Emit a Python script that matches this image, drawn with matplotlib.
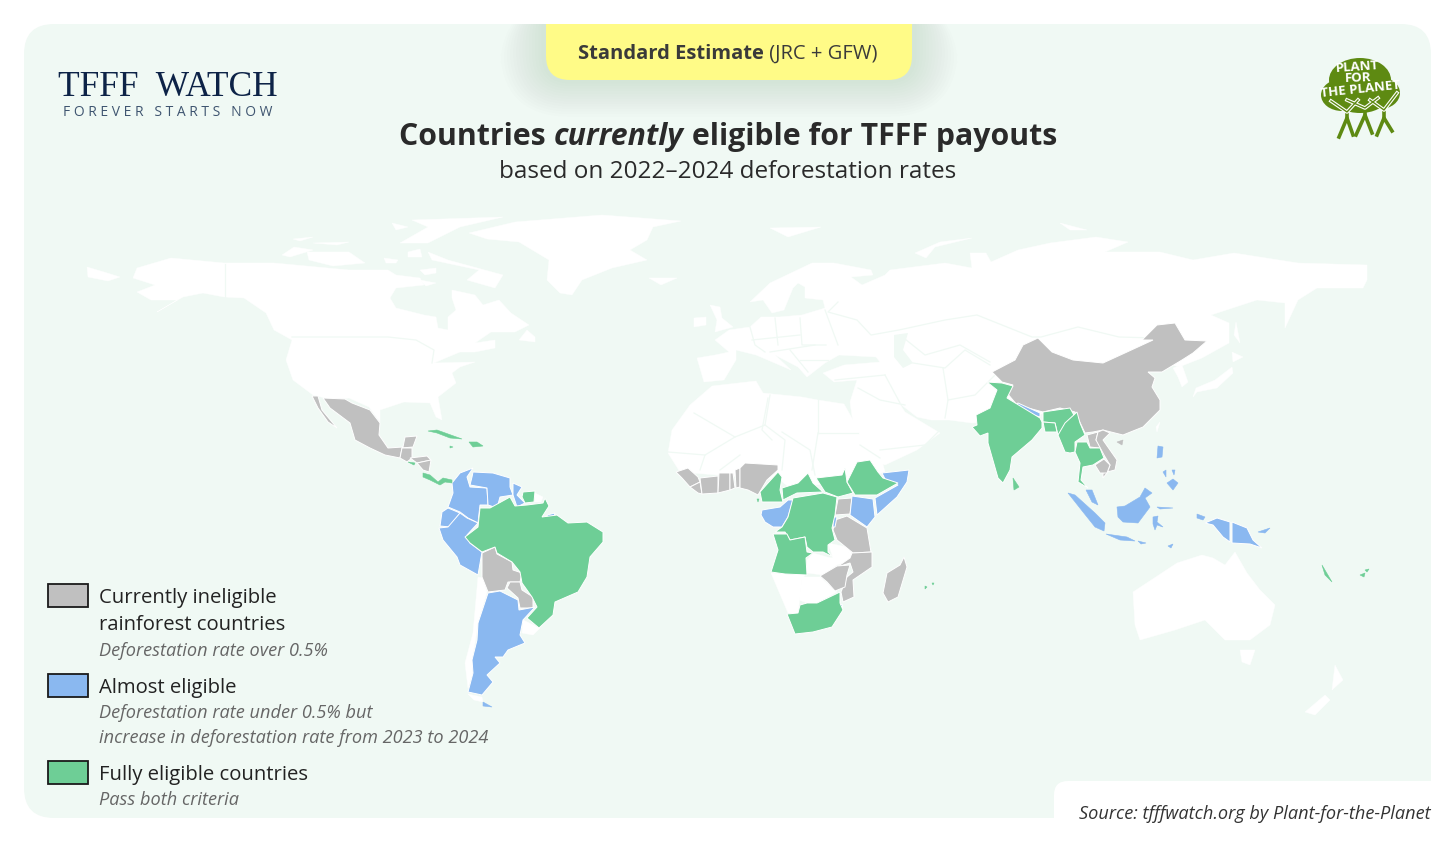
import matplotlib
matplotlib.use("Agg")
import matplotlib.pyplot as plt
from matplotlib.patches import FancyBboxPatch, Ellipse, Rectangle

# outlines are traced in map units (1 unit = 1 px of the 1456x842 picture)
PANEL = "#F0F9F4"
GREY = "#C0C0C0"
BLUE = "#8AB8F0"
GREEN = "#6ECE96"

# ---- land without a category
north_america = [(133,278),(137,268),(171,258),(224,263),(274,263),(317,267),(349,270),(388,270),(396,275),(420,278),
    (424,285),(396,288),(390,298),(396,308),(424,315),(436,317),(438,328),(448,330),(448,317),(456,310),(452,298),
    (452,290),(475,295),(483,305),(499,300),(511,313),(529,325),(515,332),(491,332),(475,343),(495,340),(495,348),
    (475,352),(460,352),(448,357),(434,363),(475,362),(460,367),(452,373),(456,383),(438,397),(442,420),(436,417),
    (430,403),(404,402),(380,410),(380,422),(369,407),(349,398),(333,400),(313,395),(293,380),(286,360),(292,340),
    (274,330),(266,313),(244,298),(224,297),(203,293),(183,297),(157,312),(177,300),(151,300),(137,292),(155,285)]
greenland = [(469,233),(515,222),(602,215),(681,221),(653,227),(647,240),(630,250),(647,260),(612,268),(582,280),
    (572,295),(560,293),(547,280),(549,260),(519,242),(487,239)]
iceland = [(649,278),(677,278),(661,285)]
arctic_1 = [(282,255),(294,247),(313,250),(290,257)]
arctic_2 = [(307,252),(349,252),(365,263),(333,266),(309,260)]
arctic_3 = [(408,252),(420,249),(422,257),(408,257)]
baffin = [(428,252),(448,260),(503,275),(495,288),(467,280),(479,270),(432,260)]
arctic_4 = [(384,258),(398,260),(396,263),(386,263)]
arctic_5 = [(420,280),(436,283),(426,286)]
arctic_6 = [(420,270),(436,268),(436,273),(425,275)]
arctic_7 = [(412,220),(503,217),(460,227),(448,233),(428,243),(400,243),(428,227)]
arctic_8 = [(392,223),(408,227),(396,230)]
arctic_9 = [(293,239),(313,237),(300,241)]
arctic_10 = [(313,243),(349,242),(337,245)]
chukotka_end = [(87,267),(104,272),(120,277),(108,281),(88,277)]
newfoundland = [(519,340),(527,330),(535,337),(535,342)]
eurasia = [(697,358),(715,355),(729,352),(715,340),(729,330),(750,327),(761,317),(779,317),(802,315),(825,308),(823,300),
    (805,298),(805,287),(798,283),(793,288),(784,310),(772,313),(763,300),(750,302),(770,283),(812,263),(834,263),
    (871,270),(873,275),(851,277),(862,285),(885,275),(890,270),(945,263),(972,268),(970,253),(986,253),(991,262),
    (1018,250),(1050,243),(1096,237),(1128,242),(1105,252),(1160,252),(1193,260),(1234,253),(1298,263),(1367,265),
    (1367,280),(1363,288),(1317,288),(1298,300),(1285,328),(1285,303),(1257,300),(1211,315),(1229,323),(1229,343),
    (1202,358),(1179,367),(1165,363),(1027,420),(972,423),(949,420),(931,420),(917,417),(899,403),(905,412),(940,433),
    (917,450),(885,465),(871,460),(853,423),(850,402),(857,380),(834,382),(823,373),(844,365),(880,362),(876,357),
    (839,355),(825,363),(807,377),(798,367),(775,355),(791,370),(784,367),(756,355),(736,350),(736,360),(724,380),(704,382)]
uk = [(710,305),(720,307),(722,318),(733,327),(715,332),(717,320)]
ireland = [(694,318),(706,317),(706,325),(694,327)]
svalbard = [(770,228),(821,227),(788,237)]
novaya_zemlya = [(915,253),(940,242),(972,238),(935,247),(926,258)]
franz_josef = [(1060,223),(1087,230),(1070,230)]
sakhalin = [(1236,322),(1240,343),(1234,335)]
honshu = [(1232,367),(1233,373),(1217,388),(1197,392),(1193,397),(1196,388),(1215,380)]
hokkaido = [(1232,352),(1243,357),(1233,362)]
korea = [(1173,368),(1182,365),(1188,382),(1182,387),(1178,377)]
taiwan = [(1160,422),(1157,432),(1156,427)]
africa_north = [(668,453),(672,430),(690,405),(712,386),(756,381),(763,393),(802,397),(818,400),(844,404),(857,427),
    (880,453),(885,472),(850,482),(815,485),(790,488),(780,480),(680,472)]
namibia = [(771,573),(805,575),(802,580),(799,605),(798,613),(788,613)]
botswana = [(802,577),(820,577),(837,592),(817,603),(807,603),(799,600)]
zambia = [(807,560),(813,553),(827,557),(833,558),(828,543),(847,547),(852,560),(837,565),(823,575),(807,573)]
malawi = [(847,547),(852,553),(853,572),(850,563)]
lesotho = [(824,617),(830,613),(834,617),(828,622)]
french_guiana = [(535,493),(543,497),(541,502),(534,502)]
uruguay = [(523,620),(540,628),(533,635),(522,633)]
chile = [(478,577),(483,578),(487,592),(478,623),(475,643),(472,660),(473,673),(468,688),(465,663),(473,633)]
fuego_white = [(468,694),(482,697),(483,702),(474,700)]
australia = [(1133,592),(1177,563),(1202,555),(1213,558),(1225,565),(1235,552),(1247,573),(1260,590),(1275,605),(1270,625),
    (1250,640),(1225,640),(1205,620),(1175,630),(1140,640),(1135,625)]
tasmania = [(1240,650),(1255,650),(1250,665),(1242,662)]
nz_north = [(1335,665),(1343,680),(1332,690)]
nz_south = [(1325,695),(1330,700),(1315,715),(1305,712)]

white_land = [north_america, greenland, iceland, arctic_1, arctic_2, arctic_3, baffin, arctic_4, arctic_5, arctic_6,
    arctic_7, arctic_8, arctic_9, arctic_10, chukotka_end, newfoundland, eurasia, uk, ireland, svalbard, novaya_zemlya,
    franz_josef, sakhalin, honshu, hokkaido, korea, taiwan, africa_north, namibia, botswana, zambia, malawi, lesotho,
    french_guiana, uruguay, chile, fuego_white, australia, tasmania, nz_north, nz_south]

caspian = [(894,335),(908,333),(903,350),(913,363),(903,368),(894,357)]

# pale country borders on the white land
borders = [
    [(292,337),(388,337),(416,340),(434,350),(432,363)], [(225,264),(225,297)],
    [(750,327),(755,345),(765,352)], [(775,318),(778,345)], [(800,318),(802,345),(826,345)], [(825,310),(838,345)],
    [(752,340),(800,335)], [(770,352),(815,345)], [(790,350),(808,372)], [(800,360),(828,360)],
    [(835,380),(885,375)], [(885,375),(900,403)], [(943,368),(948,400),(945,418)], [(948,400),(975,395),(1000,370)],
    [(913,363),(945,368),(965,350),(990,365)], [(900,335),(925,355),(960,345),(990,362)],
    [(838,302),(828,312),(857,320),(871,335),(899,330),(945,320),(977,315),(1032,337),(1041,337),(1078,327),(1119,337),(1155,338)],
    [(880,450),(925,445),(940,430)], [(858,388),(880,400),(905,405)],
    [(694,413),(735,437),(765,425),(770,395)], [(768,398),(762,430),(772,440)], [(818,400),(818,433)], [(818,433),(858,433)],
    [(782,432),(810,450),(815,475)], [(735,437),(705,455),(700,470)], [(668,452),(705,455)], [(765,425),(785,440),(782,470)],
    [(818,433),(812,470)], [(860,445),(880,458)], [(720,470),(740,455)],
]

# ---- rainforest countries, currently ineligible
mexico = [(323,398),(345,399),(352,403),(370,410),(380,423),(379,435),(388,448),(403,447),(405,437),(417,436),(413,447),
    (402,448),(400,458),(385,455),(370,448),(355,440),(350,423),(330,408)]
baja = [(312,396),(318,396),(322,410),(337,428),(328,422),(318,408)]
guatemala = [(402,448),(412,448),(412,458),(407,462),(400,458)]
honduras = [(410,458),(427,456),(431,460),(417,463)]
nicaragua = [(417,463),(431,460),(429,472),(423,470)]
bolivia = [(482,553),(495,547),(497,554),(512,562),(513,570),(522,573),(520,582),(508,582),(505,590),(488,592),(482,577)]
paraguay = [(507,588),(510,582),(520,582),(522,590),(533,597),(533,608),(520,608),(518,598)]
guinea = [(676,472),(688,468),(698,477),(700,482),(690,487),(682,478)]
liberia = [(690,487),(700,482),(702,494),(698,493)]
ivory_coast = [(700,478),(718,476),(718,493),(702,494)]
ghana = [(719,473),(730,473),(730,490),(718,493)]
togo = [(730,473),(733,473),(735,488),(730,490)]
benin = [(735,470),(740,468),(740,487),(736,488)]
nigeria = [(740,468),(745,463),(778,465),(778,470),(767,480),(758,495),(748,490),(740,488)]
uganda = [(838,499),(852,498),(850,514),(835,515)]
tanzania = [(835,520),(847,516),(867,528),(871,552),(853,553),(837,540),(833,530)]
mozambique = [(852,553),(872,552),(872,567),(853,580),(854,597),(843,602),(841,592),(847,577),(853,572),(850,563),(837,567),(850,558)]
zimbabwe = [(820,576),(837,566),(850,565),(847,575),(845,587),(835,591),(827,582)]
madagascar = [(904,557),(907,567),(898,597),(888,602),(883,593),(887,573),(900,565)]
china = [(992,372),(1015,360),(1023,345),(1038,338),(1052,352),(1073,360),(1103,363),(1127,352),(1153,340),(1142,340),
    (1157,325),(1175,323),(1185,340),(1207,341),(1193,353),(1182,360),(1162,372),(1148,372),(1155,378),(1152,387),
    (1160,400),(1160,410),(1143,427),(1123,435),(1103,430),(1093,432),(1085,433),(1075,412),(1060,408),(1043,412),
    (1017,405),(1007,393),(1013,385),(1002,382)]
laos = [(1087,435),(1098,432),(1096,440),(1106,450),(1104,458),(1099,448),(1090,447)]
vietnam = [(1098,432),(1103,430),(1110,433),(1103,440),(1117,460),(1115,470),(1103,473),(1103,478),(1107,473),(1110,465),(1104,455),(1096,440)]
cambodia = [(1095,465),(1104,459),(1110,465),(1107,473),(1100,473)]
hainan = [(1117,442),(1123,440),(1122,445)]

grey_countries = [mexico, baja, guatemala, honduras, nicaragua, bolivia, paraguay, guinea, liberia, ivory_coast, ghana, togo,
    benin, nigeria, uganda, tanzania, mozambique, zimbabwe, madagascar, china, laos, vietnam, cambodia]

# ---- almost eligible
colombia = [(452,483),(460,473),(473,468),(467,477),(470,487),(487,488),(488,505),(480,505),(478,523),(468,518),(460,512),(448,507),(453,493)]
venezuela = [(473,472),(493,473),(510,478),(510,487),(513,495),(500,497),(497,508),(488,505),(487,488),(470,485),(472,477)]
guyana = [(513,483),(522,487),(517,495),(525,503),(517,507),(513,495)]
ecuador = [(442,512),(448,508),(460,513),(450,527),(440,526)]
peru = [(439,528),(448,527),(460,513),(467,518),(478,523),(467,535),(470,543),(482,552),(478,575),(460,565),(457,557),(443,540)]
argentina = [(488,593),(500,591),(518,600),(519,610),(535,607),(523,620),(520,635),(525,643),(508,650),(503,657),(495,657),(500,663),
    (487,675),(493,682),(482,695),(468,692),(473,673),(472,660),(477,640),(478,623)]
amapa_spot = [(547,515),(555,513),(554,517),(548,518)]
gabon_congo = [(762,510),(780,507),(788,500),(793,500),(788,517),(782,527),(773,527),(765,522),(761,515)]
burundi = [(833,517),(837,517),(835,527),(833,527)]
kenya = [(852,496),(873,499),(875,517),(867,527),(850,515)]
somalia = [(882,473),(909,470),(907,482),(897,497),(877,515),(875,498),(898,485),(885,479)]
eswatini = [(838,604),(842,604),(842,608),(838,608)]
nepal = [(1013,407),(1018,403),(1040,413),(1040,417),(1023,412)]
bhutan = [(1045,413),(1055,413),(1055,416),(1045,416)]
west_papua = [(1205,523),(1217,518),(1230,522),(1230,542),(1223,537),(1213,525)]
papua = [(1232,522),(1247,528),(1253,540),(1262,548),(1250,544),(1232,543)]

blue_countries = [colombia, venezuela, guyana, ecuador, peru, argentina, amapa_spot, gabon_congo, burundi, kenya, somalia,
    eswatini, nepal, bhutan, west_papua, papua]

# blue islands and peninsulas, no white edge in the picture
fuego = [(483,702),(492,707),(483,706)]
malaysia = [(1086,490),(1092,490),(1098,505),(1092,502)]
sumatra = [(1068,493),(1075,495),(1095,513),(1105,523),(1104,531),(1095,527),(1083,512)]
java = [(1106,534),(1127,537),(1135,541),(1120,540)]
lesser_sunda = [(1138,541),(1146,543),(1141,544)]
timor = [(1168,546),(1173,544),(1171,548)]
borneo = [(1117,507),(1125,506),(1140,497),(1145,488),(1152,493),(1145,498),(1150,507),(1138,523),(1123,522),(1118,517)]
sulawesi = [(1153,517),(1158,516),(1157,522),(1163,527),(1157,525),(1155,530),(1153,524)]
seram = [(1157,507),(1173,508),(1160,509)]
luzon = [(1158,446),(1163,447),(1162,457),(1157,458)]
visayas = [(1163,472),(1166,470),(1166,477)]
palawan = [(1172,470),(1175,470),(1174,475)]
mindanao = [(1173,479),(1178,483),(1173,490),(1167,483)]
halmahera = [(1197,514),(1205,517),(1203,520),(1197,518)]
new_britain = [(1258,532),(1270,528),(1265,533)]

blue_islands = [fuego, malaysia, sumatra, java, lesser_sunda, timor, borneo, sulawesi, seram, luzon, visayas, palawan,
    mindanao, halmahera, new_britain]
grey_islands = [hainan]

# ---- fully eligible
brazil = [(480,508),(490,508),(510,497),(515,506),(527,505),(543,503),(545,498),(549,506),(542,517),(557,515),(568,523),(587,522),
    (603,532),(603,542),(590,557),(587,577),(578,592),(555,602),(553,615),(539,628),(527,618),(537,607),(532,597),(522,583),
    (520,572),(512,562),(497,553),(495,547),(482,552),(470,543),(465,537),(478,527)]
suriname = [(523,492),(535,491),(534,502),(525,503),(522,497)]
cameroon = [(778,472),(782,477),(780,490),(783,502),(762,502),(760,492),(768,483)]
car = [(782,488),(798,483),(808,473),(813,483),(823,492),(797,493),(783,500)]
south_sudan = [(816,478),(842,475),(845,468),(847,482),(853,493),(838,497),(825,492)]
ethiopia = [(857,462),(870,460),(878,472),(883,478),(898,483),(877,495),(855,495),(847,482)]
drc = [(793,498),(823,493),(837,497),(835,515),(832,528),(835,540),(828,545),(828,552),(833,557),(823,552),(813,552),(807,547),
    (805,537),(790,540),(785,532),(775,532),(782,527),(788,517)]
angola = [(773,534),(787,534),(790,540),(805,537),(807,552),(813,553),(806,558),(807,575),(785,574),(771,572),(778,550)]
south_africa = [(800,605),(807,603),(817,603),(840,592),(840,603),(843,610),(832,627),(813,632),(795,634),(787,614),(798,613)]
india = [(987,382),(1002,383),(1013,386),(1007,398),(1040,418),(1042,422),(1042,428),(1032,440),(1012,457),(1010,470),(1003,483),
    (998,478),(988,443),(988,433),(980,436),(972,427),(977,425),(976,415),(990,408),(997,390)]
northeast_india = [(1043,412),(1070,408),(1075,417),(1058,435),(1055,423),(1043,422)]
bangladesh = [(1043,422),(1055,423),(1057,432),(1045,432)]
myanmar = [(1077,412),(1080,423),(1085,435),(1075,442),(1075,452),(1070,453),(1065,452),(1058,435),(1065,423)]
thailand = [(1077,442),(1087,442),(1090,448),(1100,448),(1104,458),(1093,465),(1083,467),(1081,480),(1088,488),(1078,482),(1080,463),(1075,452)]

green_countries = [brazil, suriname, cameroon, car, south_sudan, ethiopia,
    drc, angola, south_africa, india, northeast_india, bangladesh, myanmar, thailand]

el_salvador = [(408,462),(415,463),(414,465)]
costa_panama = [(423,473),(430,475),(438,482),(443,478),(452,480),(452,483),(445,482),(440,485),(430,480),(423,477)]
cuba = [(428,431),(437,430),(462,439),(450,438),(437,433)]
hispaniola = [(469,442),(477,442),(483,446),(473,447)]
jamaica = [(450,446),(453,447),(450,448)]
sri_lanka = [(1013,478),(1019,487),(1014,490)]
solomon = [(1322,565),(1332,582),(1325,575)]
fiji = [(1360,575),(1365,573),(1364,577)]
fiji_2 = [(1365,570),(1369,569),(1367,572)]
mauritius = [(925,586),(927,587),(925,589)]
reunion = [(932,583),(934,583),(933,585)]
bioko = [(757,499),(759,499),(758,502)]
green_islands = [el_salvador, costa_panama, cuba, hispaniola, jamaica, sri_lanka, solomon, fiji, fiji_2, mauritius, reunion, bioko]

# ---- legend
legend_colors = [GREY, BLUE, GREEN]
legend_tops = [584, 674, 761]
legend_main = [("Currently ineligible", 598), ("rainforest countries", 625), ("Almost eligible", 688), ("Fully eligible countries", 775)]
legend_notes = [("Deforestation rate over 0.5%", 651), ("Deforestation rate under 0.5% but", 713),
    ("increase in deforestation rate from 2023 to 2024", 738), ("Pass both criteria", 800)]

# ---- logo of Plant-for-the-Planet
tree_blobs = [(1360,80,62,44), (1342,95,42,32), (1380,93,40,32), (1360,100,50,26)]
people_legs = [[(1339,137),(1347,118),(1353,135)], [(1356,135),(1365,115),(1372,133)], [(1377,135),(1384,118),(1392,131)]]
people_trunks = [[(1347,118),(1347,104)], [(1365,115),(1365,102)], [(1384,118),(1384,104)]]
people_arms = [[(1331,101),(1347,112),(1358,100)], [(1347,100),(1365,108),(1378,98)], [(1370,100),(1384,110),(1397,93)]]

plt.rcParams["font.family"] = ["Open Sans", "DejaVu Sans"]
fig = plt.figure(figsize=(14.56, 8.42), dpi=100, facecolor="white")
ax = fig.add_axes([0, 0, 1, 1])
ax.set_xlim(0, 1456)
ax.set_ylim(842, 0)
ax.axis("off")

ax.add_patch(FancyBboxPatch((24, 24), 1407, 794, boxstyle="round,pad=0,rounding_size=30", fc=PANEL, ec="none", zorder=0))

for shape in white_land:
    ax.fill(*zip(*shape), fc="white", ec="white", lw=0.3, zorder=1)
ax.fill(*zip(*caspian), fc=PANEL, ec="none", zorder=1.5)
for line in borders:
    ax.plot(*zip(*line), color=PANEL, lw=0.9, zorder=1.6)

for group, color in [(grey_countries, GREY), (blue_countries, BLUE), (green_countries, GREEN)]:
    for shape in group:
        ax.fill(*zip(*shape), fc=color, ec="white", lw=0.7, zorder=2)
for group, color in [(grey_islands, GREY), (blue_islands, BLUE), (green_islands, GREEN)]:
    for shape in group:
        ax.fill(*zip(*shape), fc=color, ec=color, lw=0.4, zorder=2)

# yellow tab with soft shadow
for i in range(14):
    grow = 46 - i * 3.2
    ax.add_patch(FancyBboxPatch((546 - grow, 0), 366 + 2 * grow, 80 + grow * 0.8,
        boxstyle="round,pad=0,rounding_size=%g" % (24 + grow), fc="#3C6E5A", ec="none", alpha=0.006, zorder=3))
ax.add_patch(FancyBboxPatch((546, -20), 366, 100, boxstyle="round,pad=0,rounding_size=24", fc="#FFFB87", ec="none", zorder=4))
ax.add_patch(Rectangle((0, 0), 1456, 24, fc="white", ec="none", zorder=5))


def centered_runs(runs, cx, y):
    # one line of text in several styles, centred as a whole
    r = fig.canvas.get_renderer()
    items = [ax.text(0, y, s, va="center", ha="left", zorder=6, **kw) for s, kw in runs]
    widths = [t.get_window_extent(r).width for t in items]
    x = cx - sum(widths) / 2
    for t, w in zip(items, widths):
        t.set_x(x)
        x += w


centered_runs([("Standard Estimate", dict(fontsize=14.5, fontweight="bold", color="#3A3A3A")),
    (" (JRC + GFW)", dict(fontsize=14.5, color="#3A3A3A"))], 728, 54)
centered_runs([("Countries ", dict(fontsize=21.8, fontweight="bold", color="#2A2A2A")),
    ("currently", dict(fontsize=21.8, fontweight="bold", style="italic", color="#2A2A2A")),
    (" eligible for TFFF payouts", dict(fontsize=21.8, fontweight="bold", color="#2A2A2A"))], 728, 137)
ax.text(728, 172, "based on 2022–2024 deforestation rates", fontsize=17.5, ha="center", va="center", color="#2A2A2A", zorder=6)

# logo TFFF Watch
ax.text(168, 87, "TFFF  WATCH", family="Liberation Serif", fontsize=25.5, color="#0D2347", ha="center", va="center", zorder=6)
ax.text(168, 112, "F O R E V E R   S T A R T S   N O W", fontsize=10, color="#3F5570", ha="center", va="center", zorder=6)

# logo Plant-for-the-Planet
for cx, cy, w, h in tree_blobs:
    ax.add_patch(Ellipse((cx, cy), w, h, fc="#5E8A12", ec="none", zorder=3))
for leg in people_legs + people_trunks:
    ax.plot(*zip(*leg), color="#5E8A12", lw=2.6, zorder=3)
for arm in people_arms:
    ax.plot(*zip(*arm), color="white", lw=2.6, zorder=3.1)
    ax.plot(*zip(*arm), color="#5E8A12", lw=1.0, zorder=3.2)
ax.text(1357, 67, "PLANT", fontsize=9.5, fontweight="bold", color="white", ha="center", va="center", rotation=4, zorder=6)
ax.text(1358, 78, "FOR", fontsize=9.5, fontweight="bold", color="white", ha="center", va="center", rotation=2, zorder=6)
ax.text(1360, 89, "THE PLANET", fontsize=9.5, fontweight="bold", color="white", ha="center", va="center", rotation=6, zorder=6)

# legend
for color, top in zip(legend_colors, legend_tops):
    ax.add_patch(Rectangle((48, top), 40, 23, fc=color, ec="#1A1A1A", lw=1.3, zorder=6))
for s, y in legend_main:
    ax.text(99, y, s, fontsize=14.6, color="#222222", ha="left", va="center", zorder=6)
for s, y in legend_notes:
    ax.text(99, y, s, fontsize=13.1, style="italic", color="#666666", ha="left", va="center", zorder=6)

# source tab
ax.add_patch(FancyBboxPatch((1054, 781), 500, 120, boxstyle="round,pad=0,rounding_size=14", fc="white", ec="none", zorder=5))
ax.text(1431, 814, "Source: tfffwatch.org by Plant-for-the-Planet", fontsize=13.1, style="italic", color="#333333", ha="right", va="center", zorder=6)

fig.savefig("out.png", dpi=100, facecolor="white")
